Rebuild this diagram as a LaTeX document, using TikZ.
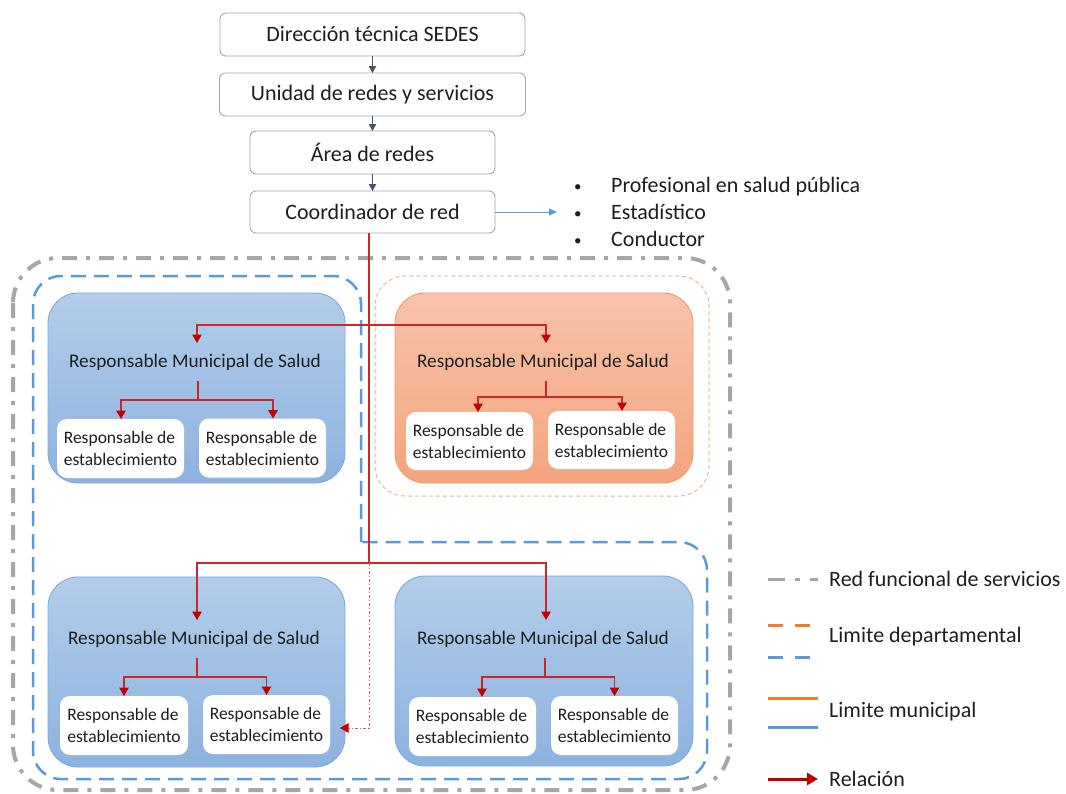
\documentclass[tikz,border=0pt]{standalone}
\usepackage{fontspec}
\setmainfont{Carlito}
\usetikzlibrary{arrows.meta,calc}

\definecolor{txt}{HTML}{1E1E1E}
\definecolor{boxline}{HTML}{A5A5A5}
\definecolor{slate}{HTML}{44546A}
\definecolor{relred}{HTML}{C00000}
\definecolor{relline}{HTML}{C9282B}
\definecolor{reldot}{HTML}{E05A5A}
\definecolor{bluetop}{HTML}{B3CDEA}
\definecolor{bluebot}{HTML}{8DB2DF}
\definecolor{blueedge}{HTML}{7EA7D9}
\definecolor{orgtop}{HTML}{F7C3AA}
\definecolor{orgbot}{HTML}{F4A47E}
\definecolor{orgedge}{HTML}{F39A66}
\definecolor{orgdash}{HTML}{F4B183}
\definecolor{deptblue}{HTML}{5B9BD5}
\definecolor{deptorange}{HTML}{ED7D31}
\definecolor{netgray}{HTML}{A6A6A6}

\newcommand{\staffbullet}{\makebox[37pt][l]{\raisebox{1pt}{\fontsize{15}{15}\selectfont •}}}

\begin{document}
\begin{tikzpicture}[x=1pt,y=-1pt,
  topbox/.style={draw=boxline, fill=white, rounded corners=6pt, line width=0.9pt,
    inner sep=0pt, outer sep=0pt, font=\fontsize{22}{26}\selectfont, text=txt},
  munibox/.style={line width=0.9pt, rounded corners=30pt, minimum width=297pt,
    minimum height=190pt, inner sep=0pt, outer sep=0pt},
  muniblue/.style={munibox, draw=blueedge, top color=bluetop, bottom color=bluebot},
  muniorange/.style={munibox, draw=orgedge, top color=orgtop, bottom color=orgbot},
  title/.style={font=\fontsize{19.3}{23}\selectfont, text=txt, minimum height=38pt,
    inner sep=0pt, outer sep=0pt},
  estbox/.style={fill=white, rounded corners=10pt, minimum width=127pt, minimum height=59pt,
    inner sep=0pt, outer sep=0pt, align=left, font=\fontsize{17.5}{22}\selectfont, text=txt},
  legtext/.style={anchor=west, inner sep=0pt, font=\fontsize{22}{26}\selectfont, text=txt},
  darkarrow/.style={draw=slate, line width=1pt, -{Triangle[width=7.5pt,length=7pt]}},
  relpath/.style={draw=relline, line width=1.2pt},
  relarrow/.style={relpath, -{Triangle[width=9.5pt,length=8.5pt,fill=relred,color=relred]}},
  reldotted/.style={draw=reldot, line width=1pt, dash pattern=on 3pt off 2pt on 1pt off 2pt,
    -{Triangle[width=9.5pt,length=8.5pt,fill=relred,color=relred]}},
  netline/.style={draw=netgray, line width=4pt, dash pattern=on 15pt off 9pt on 4pt off 9pt},
  deptbl/.style={draw=deptblue, line width=2.5pt, dash pattern=on 15pt off 8pt},
  deptor/.style={draw=orgdash, line width=1pt, dash pattern=on 4pt off 3pt}
]
\useasboundingbox (0,0) rectangle (1066,793);

% ---- boundaries ----
\draw[netline, rounded corners=45pt] (13,258) rectangle (730,790);
\draw[deptbl, rounded corners=28pt] (361,542) -- (361,276) -- (33,276) -- (33,779)
  -- (707,779) -- (707,542) -- (361,542);
\draw[deptor, rounded corners=30pt] (375,276) rectangle (709,496);

% ---- upper chain ----
\node[topbox, minimum width=305pt, minimum height=43pt] (dir) at (372.5,34.5) {Dirección técnica SEDES};
\node[topbox, minimum width=306pt, minimum height=43pt] (uni) at (372.5,94.5) {Unidad de redes y servicios};
\node[topbox, minimum width=245pt, minimum height=43pt] (area) at (372.5,152.5) {Área de redes};
\node[topbox, minimum width=245pt, minimum height=42pt] (coord) at (372.5,212) {Coordinador de red};
\draw[darkarrow] (dir) -- (uni);
\draw[darkarrow] (uni) -- (area);
\draw[darkarrow] (area) -- (coord);

% ---- support staff list ----
\node[anchor=west, inner sep=0pt, align=left, font=\fontsize{22}{27}\selectfont, text=txt] (staff) at (574,212)
  {\staffbullet Profesional en salud pública\\
   \staffbullet Estadístico\\
   \staffbullet Conductor};
\coordinate (stafftip) at (557,212);
\draw[draw=deptblue, line width=1pt, -{Triangle[width=7pt,length=8pt]}] (coord.east) -- (stafftip);

% ---- municipal boxes ----
\node[muniblue] (mTL) at (196.5,388) {};
\node[muniorange, minimum width=298pt] (mTR) at (544,388) {};
\node[muniblue] (mBL) at (196.5,672) {};
\node[muniblue, minimum width=298pt] (mBR) at (544,671) {};

\node[title] (tTL) at (195,362) {Responsable Municipal de Salud};
\node[title] (tTR) at (543,362) {Responsable Municipal de Salud};
\node[title] (tBL) at (194,639) {Responsable Municipal de Salud};
\node[title] (tBR) at (543,639) {Responsable Municipal de Salud};

\node[estbox] (eTL1) at (120.5,448.5) {Responsable de\\establecimiento};
\node[estbox] (eTL2) at (262.5,448) {Responsable de\\establecimiento};
\node[estbox, minimum height=58pt] (eTR1) at (469.5,441) {Responsable de\\establecimiento};
\node[estbox, minimum height=58pt] (eTR2) at (611.5,440) {Responsable de\\establecimiento};
\node[estbox, minimum width=128pt] (eBL1) at (124,725.5) {Responsable de\\establecimiento};
\node[estbox] (eBL2) at (266.5,724.5) {Responsable de\\establecimiento};
\node[estbox] (eBR1) at (472.5,726.5) {Responsable de\\establecimiento};
\node[estbox] (eBR2) at (614.5,725.5) {Responsable de\\establecimiento};

% ---- relations ----
\coordinate (hubA) at (369,325);
\coordinate (hubB) at (369,563);
\draw[relpath] (coord.south -| hubA) -- (hubB);
\draw[relarrow] (hubA) -| ([xshift=2pt]tTL.north);
\draw[relarrow] (hubA) -| ([xshift=3pt]tTR.north);
\draw[relarrow] (hubB) -| ([xshift=3pt]tBL.north);
\draw[relarrow] (hubB) -| ([xshift=3pt]tBR.north);

\draw[relpath] ([xshift=3pt]tTL.south) -- ++(0,19) coordinate (kTL);
\draw[relarrow] (kTL) -| ([xshift=0.5pt]eTL1.north);
\draw[relarrow] (kTL) -| ([xshift=10.5pt]eTL2.north);

\draw[relpath] ([xshift=3pt]tTR.south) -- ++(0,16) coordinate (kTR);
\draw[relarrow] (kTR) -| ([xshift=8.5pt]eTR1.north);
\draw[relarrow] (kTR) -| ([xshift=10.5pt]eTR2.north);

\draw[relpath] ([xshift=3pt]tBL.south) -- ++(0,19) coordinate (kBL);
\draw[relarrow] (kBL) -| (eBL1.north);
\draw[relarrow] (kBL) -| (eBL2.north);

\draw[relpath] ([xshift=2pt]tBR.south) -- ++(0,19) coordinate (kBR);
\draw[relarrow] (kBR) -| ([xshift=9.5pt]eBR1.north);
\draw[relarrow] (kBR) -| (eBR2.north);

\draw[reldotted] (hubB) |- ($(eBL2.east)+(10,3.5)$);

% ---- legend ----
\draw[draw=netgray, line width=3pt, dash pattern=on 17pt off 10pt on 5pt off 10pt] (768,579) -- (818,579);
\node[legtext] (lg1) at (829,579) {Red funcional de servicios};
\draw[draw=deptorange, line width=3pt, dash pattern=on 15pt off 12pt] (768,625) -- (810,625);
\draw[draw=deptblue, line width=3pt, dash pattern=on 15pt off 12pt] (768,657) -- (810,657);
\node[legtext] (lg2) at (829,637) {Limite departamental};
\draw[draw=deptorange, line width=3pt] (768,698) -- (818,698);
\draw[draw=deptblue, line width=3pt] (768,727) -- (818,727);
\node[legtext] (lg3) at (829,712) {Limite municipal};
\draw[draw=relred, line width=3pt, -{Triangle[width=12pt,length=11pt]}] (768,779) -- (818,779);
\node[legtext] (lg4) at (829,779) {Relación};
\end{tikzpicture}
\end{document}
